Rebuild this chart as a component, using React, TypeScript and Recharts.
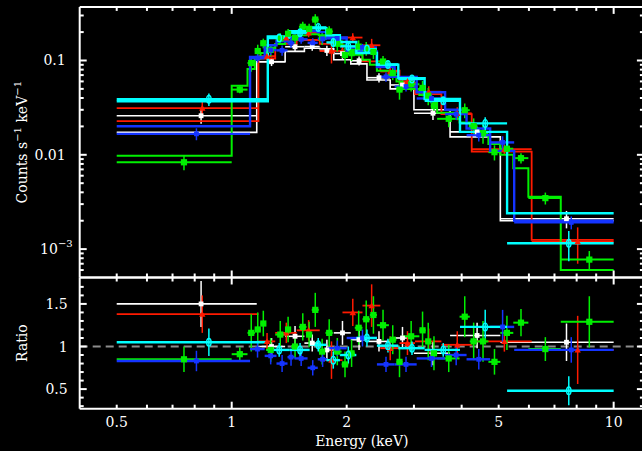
import React from 'react';
import { ComposedChart, Line, Scatter, ErrorBar, XAxis, YAxis, ReferenceLine } from 'recharts';

// ---------------- data (energy bins in keV, model in counts/s/keV, data/model ratio) ----------------
const whiteEdges = [0.50, 1.163, 1.38, 1.55, 1.70, 1.85, 2.05, 2.26, 2.60, 3.00, 3.73, 5.05, 10.0];
const whiteModel = [0.0173, 0.097, 0.125, 0.135, 0.133, 0.102, 0.092, 0.062, 0.050, 0.030, 0.0155, 0.0020];
const whiteRatio = [1.50, 1.00, 1.12, 1.04, 0.96, 1.16, 1.08, 1.06, 1.10, 0.92, 1.13, 1.05];
const whiteRatioErr = [0.27, 0.10, 0.12, 0.10, 0.12, 0.14, 0.12, 0.12, 0.13, 0.14, 0.15, 0.22];

const redEdges = [0.50, 1.175, 1.30, 1.48, 1.70, 1.95, 2.20, 2.45, 2.75, 3.02, 3.54, 4.25, 6.10, 10.0];
const redModel = [0.0227, 0.105, 0.150, 0.165, 0.150, 0.125, 0.098, 0.078, 0.058, 0.044, 0.027, 0.0108, 0.00125];
const redRatio = [1.38, 1.06, 1.16, 1.19, 0.84, 1.40, 1.48, 0.98, 1.04, 1.06, 1.02, 1.06, 0.96];
const redRatioErr = [0.22, 0.10, 0.12, 0.12, 0.22, 0.16, 0.25, 0.14, 0.14, 0.15, 0.16, 0.12, 0.40];

const greenEdges = [0.50, 1.00, 1.10, 1.15, 1.19, 1.23, 1.30, 1.38, 1.43, 1.50, 1.57, 1.62, 1.69, 1.76, 1.84, 1.94, 2.02, 2.10, 2.20, 2.30, 2.40, 2.58, 2.70, 2.80, 3.10, 3.22, 3.32, 3.45, 3.95, 4.20, 4.40, 4.70, 5.05, 5.46, 5.98, 7.27, 10.0];
const greenModel = [0.0098, 0.054, 0.081, 0.105, 0.120, 0.135, 0.150, 0.160, 0.175, 0.185, 0.190, 0.190, 0.185, 0.175, 0.160, 0.145, 0.130, 0.115, 0.102, 0.090, 0.078, 0.068, 0.060, 0.050, 0.043, 0.040, 0.036, 0.028, 0.022, 0.019, 0.016, 0.013, 0.0100, 0.0072, 0.00358, 0.00060];
const greenRatio = [0.85, 0.91, 1.16, 1.20, 1.27, 0.96, 1.14, 1.20, 1.00, 1.23, 1.14, 1.43, 0.94, 1.16, 0.94, 0.79, 0.92, 1.22, 1.32, 1.37, 1.25, 1.08, 0.82, 1.12, 1.19, 1.06, 0.92, 0.86, 1.35, 1.06, 1.06, 0.82, 1.16, 1.28, 0.97, 1.29];
const greenRatioErr = [0.15, 0.08, 0.22, 0.20, 0.15, 0.14, 0.16, 0.15, 0.14, 0.16, 0.15, 0.20, 0.15, 0.16, 0.16, 0.15, 0.16, 0.20, 0.22, 0.22, 0.18, 0.17, 0.18, 0.18, 0.22, 0.22, 0.20, 0.16, 0.24, 0.22, 0.24, 0.15, 0.20, 0.16, 0.14, 0.30];

const blueEdges = [0.50, 1.117, 1.22, 1.31, 1.40, 1.46, 1.58, 1.68, 1.78, 2.00, 2.40, 2.67, 3.05, 3.62, 4.12, 4.75, 5.49, 10.0];
const blueModel = [0.0201, 0.109, 0.145, 0.160, 0.175, 0.195, 0.205, 0.200, 0.175, 0.125, 0.085, 0.067, 0.046, 0.030, 0.019, 0.0110, 0.0020];
const blueRatio = [0.83, 0.97, 0.89, 0.80, 0.875, 0.86, 0.75, 0.85, 0.98, 1.10, 0.79, 0.79, 0.86, 0.90, 0.85, 1.23, 0.96];
const blueRatioErr = [0.12, 0.10, 0.10, 0.10, 0.10, 0.09, 0.09, 0.09, 0.09, 0.10, 0.09, 0.09, 0.10, 0.12, 0.12, 0.20, 0.15];

const cyanEdges = [0.50, 1.243, 1.42, 1.60, 1.77, 1.92, 2.12, 2.40, 2.73, 3.20, 3.96, 5.26, 10.0];
const cyanModel = [0.037, 0.180, 0.205, 0.220, 0.185, 0.157, 0.120, 0.090, 0.065, 0.039, 0.0175, 0.0024];
const cyanRatio = [1.05, 0.96, 0.96, 1.02, 0.84, 0.90, 1.10, 1.01, 0.98, 0.96, 1.23, 0.48];
const cyanRatioErr = [0.16, 0.08, 0.08, 0.08, 0.10, 0.10, 0.10, 0.08, 0.08, 0.08, 0.20, 0.17];

// ---------------- axes ----------------
const xDomain = [0.4, 12];
const countsDomain = [5e-4, 0.37];
const ratioDomain = [0.27, 1.81];
const xTicks = [0.5, 0.6, 0.7, 0.8, 0.9, 1, 2, 3, 4, 5, 6, 7, 8, 9, 10];
const xTickLabels = [0.5, 1, 2, 5, 10];
const countsTicks = [6e-4, 7e-4, 8e-4, 9e-4, 1e-3, 2e-3, 3e-3, 4e-3, 5e-3, 6e-3, 7e-3, 8e-3, 9e-3, 0.01, 0.02, 0.03, 0.04, 0.05, 0.06, 0.07, 0.08, 0.09, 0.1, 0.2, 0.3];
const ratioTicks = [0.3, 0.4, 0.5, 0.6, 0.7, 0.8, 0.9, 1.0, 1.1, 1.2, 1.3, 1.4, 1.5, 1.6, 1.7];
const ratioMajor = [0.5, 1.0, 1.5];

const FONT = 'DejaVu Serif';
const FG = '#ffffff';

const isDecade = (v: number) => Math.abs(Math.log10(v) - Math.round(Math.log10(v))) < 1e-6;
const near = (a: number, b: number) => Math.abs(a - b) < 1e-6;

type Series = { name: string; color: string; edges: number[]; model: number[]; ratio: number[]; err: number[]; shape: string; bold: number };
const series: Series[] = [
  { name: 'white', color: '#ffffff', edges: whiteEdges, model: whiteModel, ratio: whiteRatio, err: whiteRatioErr, shape: 'square', bold: 1.6 },
  { name: 'red', color: '#ff1a00', edges: redEdges, model: redModel, ratio: redRatio, err: redRatioErr, shape: 'triangle', bold: 1.8 },
  { name: 'green', color: '#00f000', edges: greenEdges, model: greenModel, ratio: greenRatio, err: greenRatioErr, shape: 'bigsquare', bold: 2 },
  { name: 'blue', color: '#1434ff', edges: blueEdges, model: blueModel, ratio: blueRatio, err: blueRatioErr, shape: 'square', bold: 2.4 },
  { name: 'cyan', color: '#00ffff', edges: cyanEdges, model: cyanModel, ratio: cyanRatio, err: cyanRatioErr, shape: 'ring', bold: 2.4 },
];

function steps(s: Series) {
  const pts = s.model.map((m, i) => ({ x: s.edges[i], y: m }));
  pts.push({ x: s.edges[s.edges.length - 1], y: s.model[s.model.length - 1] });
  return pts;
}
function points(s: Series, upper: boolean) {
  return s.ratio.map((r, i) => {
    const lo = s.edges[i];
    const hi = s.edges[i + 1];
    const c = (lo + hi) / 2;
    const scale = upper ? s.model[i] : 1;
    return { x: c, y: r * scale, ex: [c - lo, hi - c], ey: s.err[i] * scale };
  });
}

function markerShape(kind: string, color: string) {
  return (p: any) => {
    const { cx, cy } = p;
    if (cx == null || cy == null) return <g />;
    if (kind === 'triangle') return <path d={`M${cx - 3.2},${cy + 2.7} L${cx + 3.2},${cy + 2.7} L${cx},${cy - 3.2} Z`} fill={color} />;
    if (kind === 'bigsquare') return <rect x={cx - 3.1} y={cy - 3.1} width={6.2} height={6.2} fill={color} />;
    if (kind === 'ring') return <ellipse cx={cx} cy={cy} rx={2.2} ry={3.8} fill="none" stroke={color} strokeWidth={1.4} />;
    return <rect x={cx - 2.4} y={cy - 2.4} width={4.8} height={4.8} fill={color} />;
  };
}

function xTick(dir: number, withLabel: boolean) {
  return (props: any) => {
    const { x, y, payload } = props;
    const v = payload.value;
    const len = isDecade(v) ? 7 : 4;
    const lab = withLabel && xTickLabels.some((t) => near(t, v));
    return (
      <g>
        <line x1={x} x2={x} y1={y} y2={y + dir * len} stroke={FG} strokeWidth={2} />
        {lab ? (
          <text x={x} y={y + 18} textAnchor="middle" fill={FG} fontSize={14} fontFamily={FONT}>{String(v)}</text>
        ) : null}
      </g>
    );
  };
}

function countsTick(dir: number, withLabel: boolean) {
  return (props: any) => {
    const { x, y, payload } = props;
    const v = payload.value;
    const major = isDecade(v);
    const len = major ? 7 : 4;
    let label: React.ReactNode = null;
    if (withLabel && major) {
      if (near(v, 1e-3)) {
        label = (
          <text x={x - 7} y={y + 5} textAnchor="end" fill={FG} fontSize={14} fontFamily={FONT}>
            <tspan>10</tspan>
            <tspan dy={-7} fontSize={10}>−3</tspan>
          </text>
        );
      } else {
        label = (
          <text x={x - 14} y={y + 5} textAnchor="end" fill={FG} fontSize={14} fontFamily={FONT}>{near(v, 0.1) ? '0.1' : '0.01'}</text>
        );
      }
    }
    return (
      <g>
        <line x1={x} x2={x + dir * len} y1={y} y2={y} stroke={FG} strokeWidth={2} />
        {label}
      </g>
    );
  };
}

function ratioTick(dir: number, withLabel: boolean) {
  return (props: any) => {
    const { x, y, payload } = props;
    const v = payload.value;
    const major = ratioMajor.some((t) => near(t, v));
    const len = major ? 7 : 4;
    return (
      <g>
        <line x1={x} x2={x + dir * len} y1={y} y2={y} stroke={FG} strokeWidth={2} />
        {withLabel && major ? (
          <text x={x - 12} y={y + 5} textAnchor="end" fill={FG} fontSize={14} fontFamily={FONT}>{String(v)}</text>
        ) : null}
      </g>
    );
  };
}

const CountsLabel = (props: any) => {
  const vb = props.viewBox || { x: 0, y: 0, width: 80, height: 270 };
  const cy = vb.y + vb.height / 2;
  const cx = 27;
  return (
    <text x={cx} y={cy} transform={`rotate(-90, ${cx}, ${cy})`} textAnchor="middle" fill={FG} fontSize={14} fontFamily={FONT}>
      <tspan>Counts s</tspan>
      <tspan dy={-6} fontSize={10}>−1</tspan>
      <tspan dy={6}> keV</tspan>
      <tspan dy={-6} fontSize={10}>−1</tspan>
    </text>
  );
};

const RatioLabel = (props: any) => {
  const vb = props.viewBox || { x: 0, y: 0, width: 80, height: 130 };
  const cy = vb.y + vb.height / 2;
  const cx = 27;
  return (
    <text x={cx} y={cy} transform={`rotate(-90, ${cx}, ${cy})`} textAnchor="middle" fill={FG} fontSize={14} fontFamily={FONT}>Ratio</text>
  );
};

const EnergyLabel = (props: any) => {
  const vb = props.viewBox || { x: 80, y: 409, width: 564, height: 42 };
  return (
    <text x={vb.x + vb.width / 2} y={vb.y + 37} textAnchor="middle" fill={FG} fontSize={14} fontFamily={FONT}>Energy (keV)</text>
  );
};

const axisLine = { stroke: FG, strokeWidth: 2 };
const LEFT_W = 79.7;
const RIGHT_W = 56.1;
const CHART_W = 700;

function seriesElements(upper: boolean) {
  const out: React.ReactNode[] = [];
  series.forEach((s) => {
    if (upper) {
      out.push(
        <Line key={s.name + '-m'} data={steps(s)} dataKey="y" type="stepAfter" stroke={s.color} strokeWidth={s.bold} dot={false} activeDot={false} isAnimationActive={false} />
      );
    }
    out.push(
      <Scatter key={s.name + '-d'} data={points(s, upper)} dataKey="y" fill={s.color} shape={markerShape(s.shape, s.color)} isAnimationActive={false}>
        <ErrorBar dataKey="ex" direction="x" width={0} stroke={s.color} strokeWidth={s.bold} isAnimationActive={false} />
        <ErrorBar dataKey="ey" direction="y" width={0} stroke={s.color} strokeWidth={1.5} isAnimationActive={false} />
      </Scatter>
    );
  });
  return out;
}

export default function App() {
  return (
    <div style={{ position: 'absolute', left: 0, top: 0, width: 642, height: 451, background: '#000', overflow: 'hidden' }}>
      <div style={{ position: 'absolute', left: 0, top: 276 }}>
        <ComposedChart width={CHART_W} height={175} margin={{ top: 0.5, right: 0, bottom: 0, left: 0 }}>
          <XAxis xAxisId={0} dataKey="x" type="number" scale="log" domain={xDomain} allowDataOverflow ticks={xTicks} interval={0} height={42.3} tickSize={0} tickMargin={0} axisLine={axisLine} tickLine={false} tick={xTick(-1, true)} label={<EnergyLabel />} />
          <XAxis xAxisId="top" orientation="top" dataKey="x" type="number" scale="log" domain={xDomain} allowDataOverflow ticks={xTicks} interval={0} height={1} tickSize={0} tickMargin={0} axisLine={axisLine} tickLine={false} tick={xTick(1, false)} />
          <YAxis yAxisId={0} type="number" domain={ratioDomain} allowDataOverflow ticks={ratioTicks} interval={0} width={LEFT_W} tickSize={0} tickMargin={0} axisLine={axisLine} tickLine={false} tick={ratioTick(1, true)} label={<RatioLabel />} />
          <YAxis yAxisId="right" orientation="right" type="number" domain={ratioDomain} allowDataOverflow ticks={ratioTicks} interval={0} width={RIGHT_W} tickSize={0} tickMargin={0} axisLine={axisLine} tickLine={false} tick={ratioTick(-1, false)} />
          <ReferenceLine y={1} stroke="#8c8c8c" strokeWidth={2} strokeDasharray="8 5" />
          {seriesElements(false)}
        </ComposedChart>
      </div>
      <div style={{ position: 'absolute', left: 0, top: 0 }}>
        <ComposedChart width={CHART_W} height={279} margin={{ top: 5.9, right: 0, bottom: 0.5, left: 0 }}>
          <XAxis xAxisId={0} dataKey="x" type="number" scale="log" domain={xDomain} allowDataOverflow ticks={xTicks} interval={0} height={1} tickSize={0} tickMargin={0} axisLine={axisLine} tickLine={false} tick={xTick(-1, false)} />
          <XAxis xAxisId="top" orientation="top" dataKey="x" type="number" scale="log" domain={xDomain} allowDataOverflow ticks={xTicks} interval={0} height={1} tickSize={0} tickMargin={0} axisLine={axisLine} tickLine={false} tick={xTick(1, false)} />
          <YAxis yAxisId={0} type="number" scale="log" domain={countsDomain} allowDataOverflow ticks={countsTicks} interval={0} width={LEFT_W} tickSize={0} tickMargin={0} axisLine={axisLine} tickLine={false} tick={countsTick(1, true)} label={<CountsLabel />} />
          <YAxis yAxisId="right" orientation="right" type="number" scale="log" domain={countsDomain} allowDataOverflow ticks={countsTicks} interval={0} width={RIGHT_W} tickSize={0} tickMargin={0} axisLine={axisLine} tickLine={false} tick={countsTick(-1, false)} />
          {seriesElements(true)}
        </ComposedChart>
      </div>
    </div>
  );
}
